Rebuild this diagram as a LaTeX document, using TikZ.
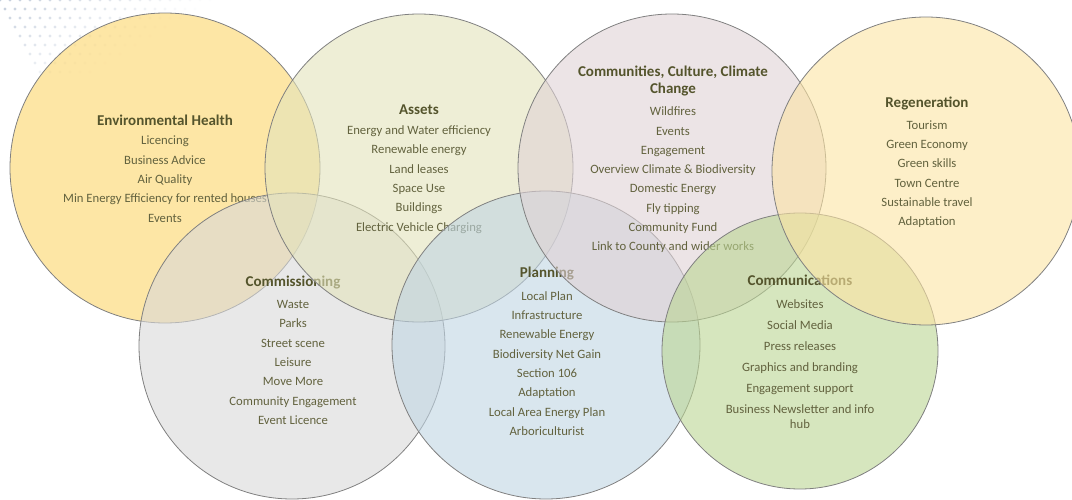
\documentclass[tikz,border=0pt]{standalone}
\usepackage{fontspec}
\setmainfont{Carlito}
\usepackage{tikz}
\usetikzlibrary{positioning}

\definecolor{envcol}{RGB}{252,213,105}
\definecolor{assetcol}{RGB}{227,227,187}
\definecolor{ccccol}{RGB}{223,210,213}
\definecolor{regencol}{RGB}{252,228,163}
\definecolor{commcol}{RGB}{217,217,217}
\definecolor{plancol}{RGB}{192,213,227}
\definecolor{comscol}{RGB}{187,213,147}
\definecolor{ringgrey}{RGB}{128,128,128}
\definecolor{titlecol}{RGB}{84,84,44}
\definecolor{itemcol}{RGB}{98,98,62}
\definecolor{dotcol}{RGB}{196,206,220}

\begin{document}
\begin{tikzpicture}[x=1pt, y=-1pt, node distance=8.5pt,
    main/.style = {draw=ringgrey, line width=0.8pt, circle, fill opacity=0.6, inner sep=0pt},
    head/.style = {text=titlecol, font=\fontsize{15}{17}\selectfont\bfseries, align=center, inner sep=2pt},
    list/.style = {text=itemcol, font=\fontsize{12.7}{19.3}\selectfont, align=center, inner sep=0pt}]
    \useasboundingbox (0,0) rectangle (1072,500);

    % dotted corner
    \foreach \i in {0,...,22} {
        \foreach \j in {0,...,8} {
            \pgfmathsetmacro{\op}{max(0,1-(\i+2*\j)/22)}
            \fill[dotcol, opacity=\op] (\i*10+\j*5, \j*9) circle (1.6pt);
        }
    }

    \node[main, fill=envcol, minimum size=310pt] (1) at (165,168) {};
    \node[head] (t1) at (165,120) {Environmental Health};
    \node[list, below=of t1] (l1) {Licencing\\Business Advice\\Air Quality\\Min Energy Efficiency for rented houses\\Events};

    \node[main, fill=commcol, minimum size=306pt] (5) at (292,346) {};
    \node[head] (t5) at (293,283) {Commissioning};
    \node[list, below=of t5] (l5) {Waste\\Parks\\Street scene\\Leisure\\Move More\\Community Engagement\\Event Licence};

    \node[main, fill=assetcol, minimum size=308pt] (2) at (419,168) {};
    \node[head] (t2) at (419,110) {Assets};
    \node[list, below=of t2] (l2) {Energy and Water efficiency\\Renewable energy\\Land leases\\Space Use\\Buildings\\Electric Vehicle Charging};

    \node[main, fill=plancol, minimum size=308pt] (6) at (546,345) {};
    \node[head] (t6) at (547,274) {Planning};
    \node[list, below=of t6] (l6) {Local Plan\\Infrastructure\\Renewable Energy\\Biodiversity Net Gain\\Section 106\\Adaptation\\Local Area Energy Plan\\Arboriculturist};

    \node[main, fill=ccccol, minimum size=308pt] (3) at (672,168) {};
    \node[head] (t3) at (673,81) {Communities, Culture, Climate\\Change};
    \node[list, below=of t3] (l3) {Wildfires\\Events\\Engagement\\Overview Climate \& Biodiversity\\Domestic Energy\\Fly tipping\\Community Fund\\Link to County and wider works};

    \node[main, fill=comscol, minimum size=276pt] (7) at (800,351) {};
    \node[head] (t7) at (800,280) {Communications};
    \node[list, below=12pt of t7, font=\fontsize{12.7}{21}\selectfont] (l7) {Websites\\Social Media\\Press releases\\Graphics and branding\\Engagement support\\Business Newsletter and info\\[-6pt]hub};

    \node[main, fill=regencol, minimum size=308pt] (4) at (926,171) {};
    \node[head] (t4) at (927,103) {Regeneration};
    \node[list, below=of t4] (l4) {Tourism\\Green Economy\\Green skills\\Town Centre\\Sustainable travel\\Adaptation};
\end{tikzpicture}
\end{document}
